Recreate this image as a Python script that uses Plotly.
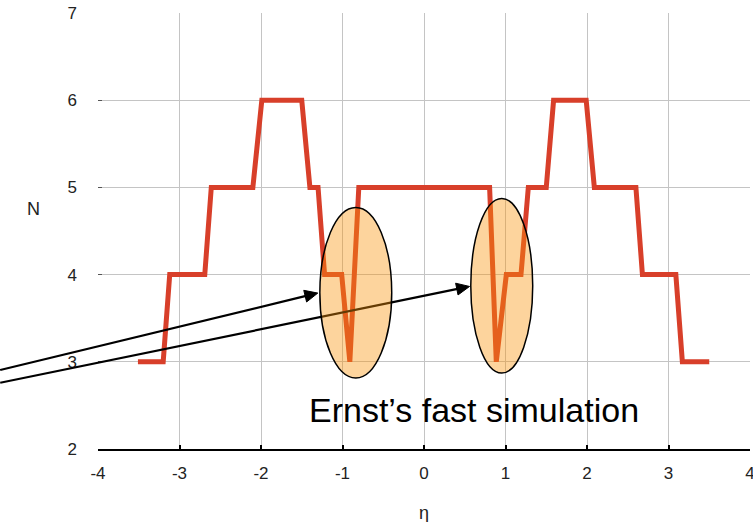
import math
import plotly.graph_objects as go

# ---- data ----
eta = [-3.51, -3.20, -3.12, -2.69, -2.61, -2.10, -1.99, -1.50, -1.40, -1.30, -1.22,
       -1.01, -0.91, -0.80, 0.805, 0.887, 1.01, 1.19, 1.28, 1.50, 1.59, 1.99, 2.09,
       2.60, 2.68, 3.09, 3.17, 3.50]
N = [3, 3, 4, 4, 5, 5, 6, 6, 5, 5, 4,
     4, 3, 5, 5, 3, 4, 4, 5, 5, 6, 6, 5,
     5, 4, 4, 3, 3]
x_ticks = [-4, -3, -2, -1, 0, 1, 2, 3, 4]
y_ticks = [2, 3, 4, 5, 6, 7]
note_text = "Ernst’s fast simulation"

# highlighted regions (data coords): x0, x1, y0, y1
ellipses = [(-1.278, -0.396, 2.814, 4.77), (0.574, 1.334, 2.871, 4.873)]
# arrows (data coords): tail, head
arrows = [((-5.2, 2.906), (-1.303, 3.788)), ((-5.2, 2.76), (0.559, 3.864))]

# ---- layout geometry ----
X_RANGE = [-4, 4]
Y_RANGE = [2, 7]
W, H = 753, 522
ML, MR, MT, MB = 98, 3, 13, 73
PW = W - ML - MR
PH = H - MT - MB
FONT = "Liberation Sans, Arial, sans-serif"


def to_px(x, y):
    px = ML + (x - X_RANGE[0]) / (X_RANGE[1] - X_RANGE[0]) * PW
    py = MT + (Y_RANGE[1] - y) / (Y_RANGE[1] - Y_RANGE[0]) * PH
    return px, py


def px_to_paper(px, py):
    return (px - ML) / PW, (H - MB - py) / PH


fig = go.Figure()
fig.add_trace(go.Scatter(x=eta, y=N, mode="lines",
                         line=dict(color="#D83F2A", width=5),
                         showlegend=False, hoverinfo="skip"))

shapes = []
HEAD_LEN, HEAD_HW = 13, 6
for (tx, ty), (hx, hy) in arrows:
    tpx, tpy = to_px(tx, ty)
    hpx, hpy = to_px(hx, hy)
    dx, dy = hpx - tpx, hpy - tpy
    L = math.hypot(dx, dy)
    ux, uy = dx / L, dy / L
    bx, by = hpx - ux * HEAD_LEN, hpy - uy * HEAD_LEN
    nx, ny = -uy, ux
    p_t = px_to_paper(tpx, tpy)
    p_b = px_to_paper(bx + ux * 2, by + uy * 2)
    shapes.append(dict(type="line", xref="paper", yref="paper",
                       x0=p_t[0], y0=p_t[1], x1=p_b[0], y1=p_b[1],
                       line=dict(color="black", width=2.2), layer="above"))
    pts = [(hpx, hpy), (bx + nx * HEAD_HW, by + ny * HEAD_HW),
           (bx - nx * HEAD_HW, by - ny * HEAD_HW)]
    pp = [px_to_paper(*p) for p in pts]
    path = "M {} {} L {} {} L {} {} Z".format(pp[0][0], pp[0][1], pp[1][0], pp[1][1],
                                               pp[2][0], pp[2][1])
    shapes.append(dict(type="path", xref="paper", yref="paper", path=path,
                       fillcolor="black", line=dict(color="black", width=1),
                       layer="above"))

for x0, x1, y0, y1 in ellipses:
    shapes.append(dict(type="circle", xref="x", yref="y", x0=x0, x1=x1, y0=y0, y1=y1,
                       fillcolor="rgba(250,148,10,0.4)",
                       line=dict(color="black", width=1.5), layer="above"))

n_px = px_to_paper(33, 0)[0]
eta_py = px_to_paper(0, 513)[1]
annotations = [
    dict(text=note_text, x=-1.43, y=2.445, xref="x", yref="y", xanchor="left",
         yanchor="middle", showarrow=False, font=dict(family=FONT, size=34, color="black")),
    dict(text="N", x=n_px, y=4.747, xref="paper", yref="y", xanchor="center",
         yanchor="middle", showarrow=False, font=dict(family=FONT, size=18, color="#222")),
    dict(text="η", x=0, y=eta_py, xref="x", yref="paper", xanchor="center",
         yanchor="middle", showarrow=False, font=dict(family=FONT, size=18, color="#222")),
]

fig.update_layout(
    width=W, height=H,
    margin=dict(l=ML, r=MR, t=MT, b=MB, pad=0, autoexpand=False),
    paper_bgcolor="white", plot_bgcolor="white",
    shapes=shapes, annotations=annotations,
    xaxis=dict(range=X_RANGE, tickvals=x_ticks, ticktext=[str(v) for v in x_ticks],
               showgrid=True, gridcolor="#c4c4c4", gridwidth=1, zeroline=False,
               showline=True, linecolor="black", linewidth=2, automargin=False,
               ticks="inside", ticklen=4, tickwidth=1.5, tickcolor="black",
               ticklabelstandoff=8, ticklabeloverflow="allow",
               tickfont=dict(family=FONT, size=17, color="#222")),
    yaxis=dict(range=Y_RANGE, tickvals=y_ticks, ticktext=[str(v) for v in y_ticks],
               showgrid=True, gridcolor="#c4c4c4", gridwidth=1, zeroline=False,
               showline=False, automargin=False,
               ticks="inside", ticklen=4, tickwidth=1, tickcolor="#555",
               ticklabelstandoff=20, ticklabeloverflow="allow",
               tickfont=dict(family=FONT, size=17, color="#222")),
)

fig.write_html("out.html")
